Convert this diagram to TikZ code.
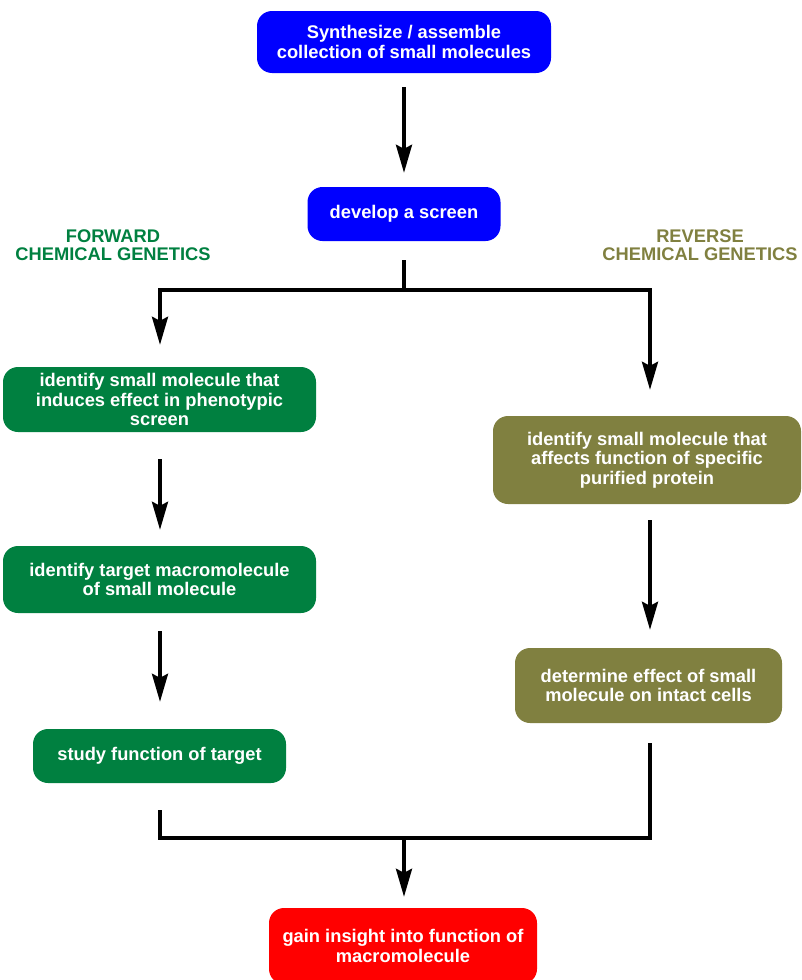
\documentclass[tikz,border=0pt]{standalone}
\usepackage{fontspec}
\setmainfont{Liberation Sans}
\usetikzlibrary{arrows.meta}
\definecolor{cblue}{HTML}{0000FF}
\definecolor{cgreen}{HTML}{008040}
\definecolor{colive}{HTML}{808040}
\definecolor{cred}{HTML}{FF0000}
\begin{document}
\begin{tikzpicture}[x=1pt,y=-1pt,
  box/.style={rounded corners=15pt, inner sep=0pt, align=center, text=white,
    font=\fontsize{18.3}{19.5}\selectfont\bfseries},
  lbl/.style={align=center, font=\fontsize{18.3}{17.5}\selectfont\bfseries},
  conn/.style={line width=3.5pt, draw=black},
  arr/.style={conn, -{Stealth[length=28pt,width=16pt,inset=4pt]}}]
\useasboundingbox (0,0) rectangle (801,980);
\node[box, fill=cblue, minimum width=294pt, minimum height=62pt] (syn) at (404,42) {Synthesize / assemble\\collection of small molecules};
\node[box, fill=cblue, minimum width=193pt, minimum height=54pt] (dev) at (404,214) {develop a screen};
\node[lbl, text=cgreen] (fwd) at (113,245) {FORWARD\\CHEMICAL GENETICS};
\node[lbl, text=colive] (rev) at (700,245) {REVERSE\\CHEMICAL GENETICS};
\node[box, fill=cgreen, minimum width=313pt, minimum height=65pt] (g1) at (159.5,399.5) {identify small molecule that\\induces effect in phenotypic\\screen};
\node[box, fill=cgreen, minimum width=313pt, minimum height=67pt] (g2) at (159.5,579.5) {identify target macromolecule\\of small molecule};
\node[box, fill=cgreen, minimum width=253pt, minimum height=54pt] (g3) at (159.5,756) {study function of target};
\node[box, fill=colive, minimum width=308pt, minimum height=88pt] (o1) at (647,460) {identify small molecule that\\affects function of specific\\purified protein};
\node[box, fill=colive, minimum width=267pt, minimum height=75pt] (o2) at (648.5,685.5) {determine effect of small\\molecule on intact cells};
\node[box, fill=cred, minimum width=268pt, minimum height=76pt] (red) at (403,946) {gain insight into function of\\macromolecule};
\coordinate (split) at (404,290);
\coordinate (ltop) at (160,290);
\coordinate (rtop) at (650,290);
\coordinate (merge) at (404,838);
\coordinate (lbot) at (160,838);
\coordinate (rbot) at (650,838);
\draw[arr, shorten <=14pt, shorten >=14pt] (syn) -- (dev);
\draw[conn, shorten <=19pt] (dev.south) -- (split);
\draw[conn, line cap=rect] (ltop) -- (rtop);
\draw[arr, shorten >=22pt] (ltop) -- (ltop |- g1.north);
\draw[arr, shorten >=26pt] (rtop) -- (rtop |- o1.north);
\draw[arr, shorten <=27pt, shorten >=16pt] (g1.south -| ltop) -- (g2.north -| ltop);
\draw[arr, shorten <=18pt, shorten >=27pt] (g2.south -| ltop) -- (g3.north -| ltop);
\draw[arr, shorten <=16pt, shorten >=18pt] (o1.south -| rtop) -- (o2.north -| rtop);
\draw[conn, shorten <=27pt] (g3.south -| lbot) -- (lbot);
\draw[conn, shorten <=20pt] (o2.south -| rbot) -- (rbot);
\draw[conn, line cap=rect] (lbot) -- (rbot);
\draw[arr, shorten >=11pt] (merge) -- (merge |- red.north);
\end{tikzpicture}
\end{document}
